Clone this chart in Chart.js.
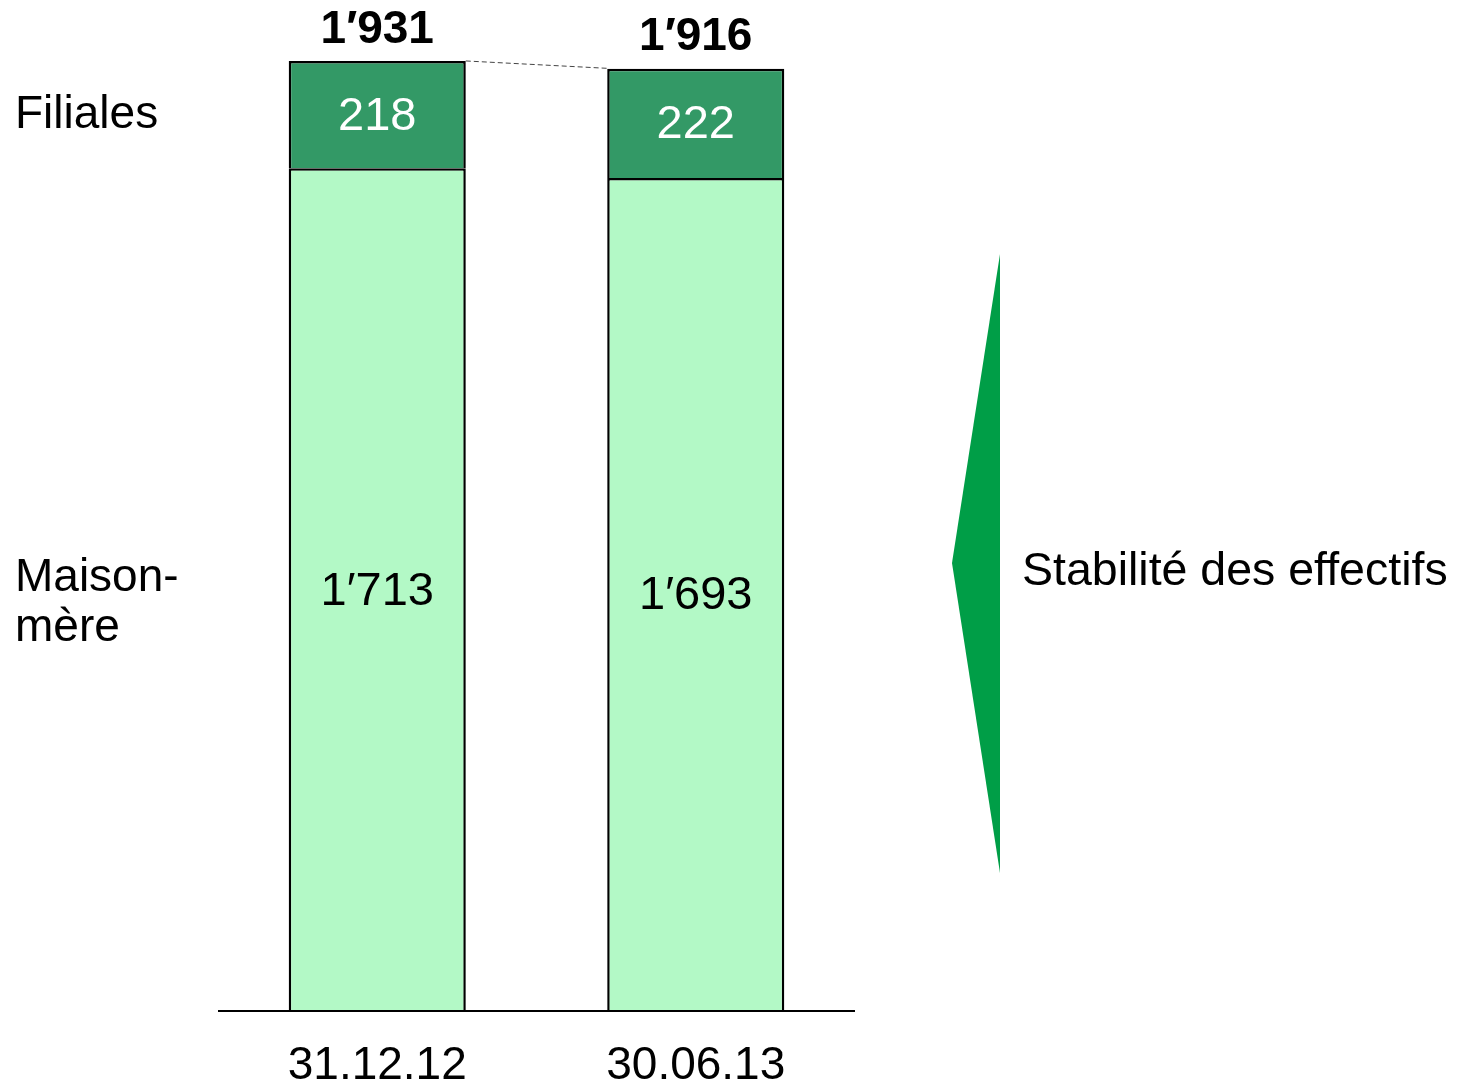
<!DOCTYPE html>
<html>
<head>
<meta charset="utf-8">
<script src="https://cdn.jsdelivr.net/npm/chart.js@4/dist/chart.umd.min.js"></script>
<style>
  html, body { margin: 0; padding: 0; background: #fff; overflow: hidden; }
  #wrap { width: 1461px; height: 1086px; position: relative; }
</style>
</head>
<body>
<div id="wrap"><canvas id="chart"></canvas></div>
<script>
const categories = ["31.12.12", "30.06.13"];
const maisonMere = [1713, 1693];
const filiales = [218, 222];
const totals = [1931, 1916];

const FONT = '"Liberation Sans", Arial, sans-serif';

// 1'931 style thousands separator
function fmt(n) {
  const s = String(n);
  return s.length > 3 ? s.slice(0, -3) + "\u2032" + s.slice(-3) : s;
}

const labelsPlugin = {
  id: "labels",
  afterDatasetsDraw(chart) {
    const ctx = chart.ctx;
    const area = chart.chartArea;
    const xScale = chart.scales.x;
    const yScale = chart.scales.y;
    ctx.save();

    // baseline
    ctx.strokeStyle = "#000";
    ctx.lineWidth = 2;
    ctx.beginPath();
    ctx.moveTo(area.left, area.bottom);
    ctx.lineTo(area.right, area.bottom);
    ctx.stroke();

    // values inside segments
    ctx.textAlign = "center";
    ctx.textBaseline = "middle";
    ctx.font = "47px " + FONT;
    chart.data.datasets.forEach((ds, di) => {
      chart.getDatasetMeta(di).data.forEach((bar, i) => {
        ctx.fillStyle = di === 1 ? "#fff" : "#000";
        ctx.fillText(fmt(ds.data[i]), bar.x, (bar.y + bar.base) / 2 + 2);
      });
    });

    // totals above bars
    ctx.font = "bold 46px " + FONT;
    ctx.fillStyle = "#000";
    const tops = chart.getDatasetMeta(1).data;
    tops.forEach((bar, i) => {
      ctx.fillText(fmt(totals[i]), bar.x, yScale.getPixelForValue(totals[i]) - 31);
    });

    // dashed connector between totals
    const w0 = tops[0].width / 2;
    ctx.strokeStyle = "#444";
    ctx.lineWidth = 1;
    ctx.setLineDash([5, 3]);
    ctx.beginPath();
    ctx.moveTo(tops[0].x + w0, yScale.getPixelForValue(totals[0]));
    ctx.lineTo(tops[1].x - w0, yScale.getPixelForValue(totals[1]));
    ctx.stroke();
    ctx.setLineDash([]);

    // category labels
    ctx.font = "46px " + FONT;
    categories.forEach((c, i) => {
      ctx.fillText(c, xScale.getPixelForValue(i), area.bottom + 55);
    });

    // series names on the left
    ctx.textAlign = "left";
    ctx.fillText("Filiales", 15, 115);
    ctx.fillText("Maison-", 15, 578);
    ctx.fillText("mère", 15, 628);

    // arrow and comment on the right
    ctx.fillStyle = "#009e47";
    ctx.beginPath();
    ctx.moveTo(1000, 254);
    ctx.lineTo(952, 563);
    ctx.lineTo(1000, 873);
    ctx.closePath();
    ctx.fill();
    ctx.fillStyle = "#000";
    ctx.font = "46.5px " + FONT;
    ctx.fillText("Stabilité des effectifs", 1022, 572);

    ctx.restore();
  }
};

new Chart(document.getElementById("chart"), {
  type: "bar",
  data: {
    labels: categories,
    datasets: [
      {
        label: "Maison-mère",
        data: maisonMere,
        backgroundColor: "#b3f9c6",
        borderColor: "#000",
        borderWidth: 2.5,
        borderSkipped: "start"
      },
      {
        label: "Filiales",
        data: filiales,
        backgroundColor: "#339966",
        borderColor: "#000",
        borderWidth: 2.5,
        borderSkipped: "start"
      }
    ]
  },
  options: {
    responsive: true,
    maintainAspectRatio: false,
    animation: false,
    layout: { padding: { left: 218, right: 606, top: 27, bottom: 75 } },
    datasets: { bar: { categoryPercentage: 1, barPercentage: 0.556 } },
    plugins: { legend: { display: false }, tooltip: { enabled: false } },
    scales: {
      x: { stacked: true, display: false },
      y: { stacked: true, display: false, min: 0, max: 2000 }
    }
  },
  plugins: [labelsPlugin]
});
</script>
</body>
</html>
